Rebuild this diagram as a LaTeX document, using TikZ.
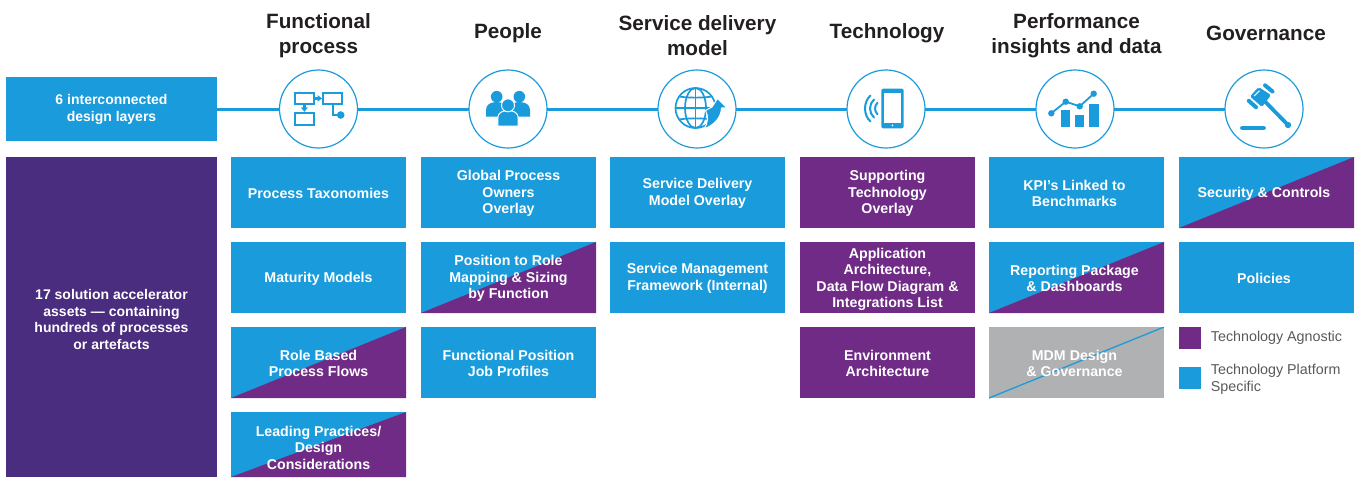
\documentclass[tikz,border=0pt]{standalone}
\usepackage{fontspec}
\setmainfont{Liberation Sans}
\definecolor{kblue}{HTML}{1A9BDB}
\definecolor{kpurple}{HTML}{6F2B85}
\definecolor{kdeep}{HTML}{4B2D7F}
\definecolor{kgray}{HTML}{B0B1B3}
\definecolor{kink}{HTML}{231F20}
\definecolor{ktext}{HTML}{58595B}
\tikzset{
  panel/.style={rectangle,inner sep=0pt,outer sep=0pt,minimum width=175pt,minimum height=71pt},
  paneltext/.style={inner sep=0pt,text=white,align=center,yshift=-1pt,
    font=\fontsize{14.2}{16.5}\selectfont\bfseries},
  bluebox/.style={panel,fill=kblue},
  purplebox/.style={panel,fill=kpurple},
  splitbox/.style={panel,fill=kblue,path picture={
    \fill[kpurple] (path picture bounding box.north east) -- (path picture bounding box.south east)
      -- (path picture bounding box.south west) -- cycle;}},
  graybox/.style={panel,fill=kgray,path picture={
    \draw[kblue,line width=1.3pt] (path picture bounding box.north east) -- (path picture bounding box.south west);}},
  lastrow/.style={minimum height=65pt},
  sidebox/.style={panel,minimum width=211pt},
  sidetext/.style={paneltext,font=\fontsize{14}{16.5}\selectfont\bfseries},
  heading/.style={text=kink,align=center,inner sep=0pt,font=\fontsize{20.7}{25}\selectfont\bfseries},
  ring/.style={circle,draw=kblue,line width=1.2pt,fill=white,minimum size=78pt,inner sep=0pt,outer sep=0pt},
  layerline/.style={kblue,line width=3pt},
  swatch/.style={rectangle,inner sep=0pt,minimum size=22pt},
  legendtext/.style={text=ktext,align=left,anchor=west,inner sep=0pt,font=\fontsize{14.3}{17}\selectfont},
  iconline/.style={kblue,line width=1.7pt},
}
% #1 box style, #2 node name, #3 position, #4 text offset, #5 text
\newcommand{\panelbox}[5]{%
  \node[#1] (#2) at #3 {};
  \node[paneltext,#4] (#2t) at (#2) {#5};}
\begin{document}
\begin{tikzpicture}[x=1pt,y=-1pt]
\useasboundingbox (0,0) rectangle (1359,477);
% side panels
\node[sidebox,fill=kblue,minimum height=64pt] (layers) at (111.5,109) {};
\node[sidetext] (layerst) at (111.5,108.3) {6 interconnected\\design layers};
\node[sidebox,fill=kdeep,minimum height=320pt] (assets) at (111.5,317) {};
\node[sidetext] (assetst) at (111.5,318.5)
  {17 solution accelerator\\assets — containing\\hundreds of processes\\or artefacts};
% headings
\node[heading] (h1) at (318.5,35.5) {Functional\\process};
\node[heading] (h2) at (508,33) {People};
\node[heading] (h3) at (697.5,35.5) {Service delivery\\model};
\node[heading] (h4) at (887,33) {Technology};
\node[heading] (h5) at (1076.5,35.5) {Performance\\insights and data};
\node[heading] (h6) at (1266,33) {Governance};
% rings and connectors
\node[ring] (c1) at (318.5,109) {};
\node[ring] (c2) at (508,109) {};
\node[ring] (c3) at (697,109) {};
\node[ring] (c4) at (886,109) {};
\node[ring] (c5) at (1075,109) {};
\node[ring] (c6) at (1264,109) {};
\draw[layerline] (layers.east |- c1) -- (c1.west);
\draw[layerline] (c1.east) -- (c2.west);
\draw[layerline] (c2.east) -- (c3.west);
\draw[layerline] (c3.east) -- (c4.west);
\draw[layerline] (c4.east) -- (c5.west);
\draw[layerline] (c5.east) -- (c6.west);
% column 1
\panelbox{bluebox}{a1}{(318.5,192.5)}{}{Process Taxonomies}
\panelbox{bluebox}{a2}{(318.5,277.5)}{}{Maturity Models}
\panelbox{splitbox}{a3}{(318.5,362.5)}{}{Role Based\\Process Flows}
\panelbox{splitbox,lastrow}{a4}{(318.5,444.5)}{yshift=-2pt}{Leading Practices/\\Design\\Considerations}
% column 2
\panelbox{bluebox}{b1}{(508.5,192.5)}{}{Global Process\\Owners\\Overlay}
\panelbox{splitbox}{b2}{(508.5,277.5)}{}{Position to Role\\Mapping \& Sizing\\by Function}
\panelbox{bluebox}{b3}{(508.5,362.5)}{}{Functional Position\\Job Profiles}
% column 3
\panelbox{bluebox}{d1}{(697.5,192.5)}{}{Service Delivery\\Model Overlay}
\panelbox{bluebox}{d2}{(697.5,277.5)}{}{Service Management\\Framework (Internal)}
% column 4
\panelbox{purplebox}{e1}{(887.5,192.5)}{}{Supporting\\Technology\\Overlay}
\panelbox{purplebox}{e2}{(887.5,277.5)}{yshift=-1pt}{Application\\Architecture,\\Data Flow Diagram \&\\Integrations List}
\panelbox{purplebox}{e3}{(887.5,362.5)}{}{Environment\\Architecture}
% column 5
\panelbox{bluebox}{f1}{(1076.5,192.5)}{xshift=-2pt}{KPI’s Linked to\\Benchmarks}
\panelbox{splitbox}{f2}{(1076.5,277.5)}{xshift=-2pt}{Reporting Package\\\& Dashboards}
\panelbox{graybox}{f3}{(1076.5,362.5)}{xshift=-2pt}{MDM Design\\\& Governance}
% column 6
\panelbox{splitbox}{g1}{(1266.5,192.5)}{xshift=-2.5pt}{Security \& Controls}
\panelbox{bluebox}{g2}{(1266.5,277.5)}{xshift=-2.5pt}{Policies}
% legend
\node[swatch,fill=kpurple] (k1) at (1190,338) {};
\node[swatch,fill=kblue] (k2) at (1190,378) {};
\node[legendtext] (k1t) at (1210.7,338) {Technology Agnostic};
\node[legendtext] (k2t) at (1210.7,379.5) {Technology Platform\\Specific};
% icon: process flow
\draw[iconline] (295,92.7) rectangle (314,104.3);
\draw[iconline] (322.7,92.7) rectangle (342,104.3);
\draw[iconline] (295,113.3) rectangle (314,125.3);
\fill[kblue] (314,97) rectangle (318.5,99.8);
\fill[kblue] (317.5,95) -- (322,98.4) -- (317.5,101.8) -- cycle;
\fill[kblue] (303,104.3) rectangle (305.8,108);
\fill[kblue] (301,107.4) -- (304.4,111.8) -- (307.8,107.4) -- cycle;
\draw[iconline] (332.7,104.3) -- (332.7,115) -- (340,115);
\fill[kblue] (340.7,115) circle (3.8);
% icon: people
\fill[kblue] (486,116.7) -- (486,110) .. controls (486,105) and (490,102) .. (496.7,102)
  .. controls (503,102) and (507,105) .. (507,110) -- (507,116.7) -- cycle;
\fill[kblue] (509,116.7) -- (509,110) .. controls (509,105) and (513,102) .. (519.3,102)
  .. controls (526,102) and (530,105) .. (530,110) -- (530,116.7) -- cycle;
\fill[kblue] (496.7,96.7) circle (5.8);
\fill[kblue] (519.3,96.7) circle (5.8);
\filldraw[kblue,draw=white,line width=1pt] (497.8,126) -- (497.8,118) .. controls (497.8,113) and (502,110.5) .. (508,110.5)
  .. controls (514,110.5) and (518.2,113) .. (518.2,118) -- (518.2,126) -- cycle;
\filldraw[kblue,draw=white,line width=1pt] (508,105.3) circle (6.5);
% icon: globe
\draw[iconline] (695.5,108) circle (20);
\draw[iconline] (695.5,108) ellipse (10.5 and 20);
\draw[iconline] (695.5,88) -- (695.5,128);
\draw[iconline] (675.5,108) -- (715.5,108);
\draw[iconline] (679,96.5) .. controls (688,98) and (703,98) .. (712,96.5);
\draw[iconline] (679,119.5) .. controls (688,118) and (703,118) .. (712,119.5);
\filldraw[kblue,draw=white,line width=1pt] (705.5,110.5) -- (712,107) -- (717.5,98.5) -- (727,107.8) -- (721.5,108)
  .. controls (721,118) and (714,125) .. (704,129) .. controls (708.5,122) and (708.5,116) .. cycle;
% icon: phone
\fill[kblue,rounded corners=2pt] (881.3,88.7) rectangle (903.7,128.3);
\fill[white] (884,92.7) rectangle (901,122.7);
\fill[white] (892.4,125.4) circle (1);
\draw[kblue,line width=2pt,line cap=round] (877.5,102.7) .. controls (874.2,106) and (874.2,111) .. (877.5,114.3);
\draw[kblue,line width=2pt,line cap=round] (874,99.5) .. controls (868.7,104) and (868.7,113) .. (874,117.5);
\draw[kblue,line width=2pt,line cap=round] (870.5,95.5) .. controls (863.2,102) and (863.2,115) .. (870.5,121.5);
% icon: chart
\fill[kblue] (1061,110) rectangle (1070,127);
\fill[kblue] (1075,115) rectangle (1084.3,127);
\fill[kblue] (1089,104) rectangle (1099,127);
\draw[kblue,line width=1.8pt] (1051.3,113.3) -- (1065.7,101.7) -- (1079.7,106.3) -- (1093.7,93.7);
\fill[kblue] (1051.3,113.3) circle (3.2);
\fill[kblue] (1065.7,101.7) circle (3.2);
\fill[kblue] (1079.7,106.3) circle (3.2);
\fill[kblue] (1093.7,93.7) circle (3.2);
% icon: gavel
\draw[kblue,line width=3.8pt] (1264,100.5) -- (1287,124);
\fill[kblue] (1288,125) circle (3.2);
\fill[kblue,rounded corners=2pt] (1258.5,87) -- (1271,95) -- (1262,107) -- (1250,96.5) -- cycle;
\draw[white,line width=1pt] (1254,96) -- (1259.5,90.7);
\draw[kblue,line width=4pt,line cap=round] (1265,85.3) -- (1272.5,91.5);
\draw[kblue,line width=4pt,line cap=round] (1248.8,100.8) -- (1256,107.2);
\draw[kblue,line width=4.8pt,line cap=round] (1242.5,128) -- (1263.5,128);
\end{tikzpicture}
\end{document}
